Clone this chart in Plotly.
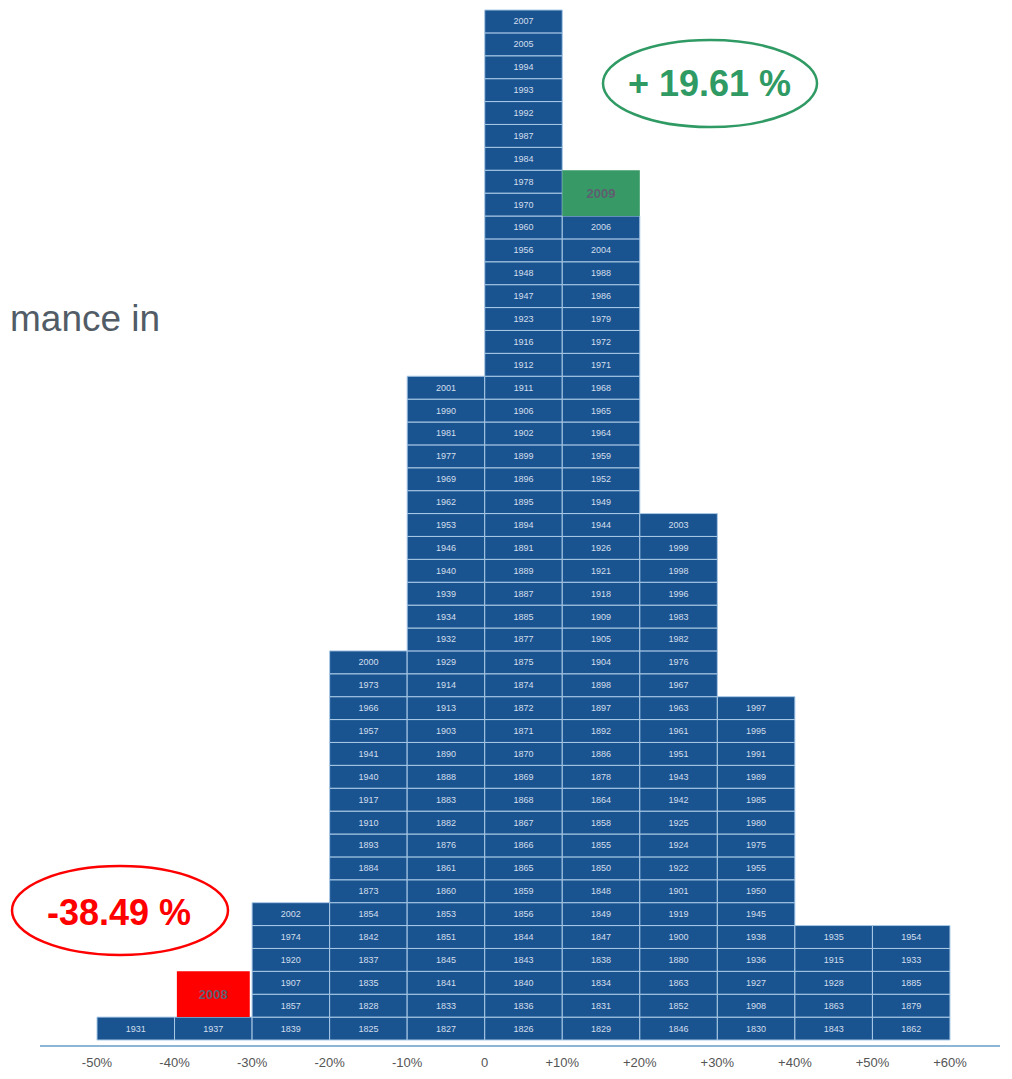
import plotly.graph_objects as go

# ---- data: years in each 10%-return bin, listed top -> bottom as read ----
bin_edges = [-50, -40, -30, -20, -10, 0, 10, 20, 30, 40, 50, 60]
tick_labels = ["-50%", "-40%", "-30%", "-20%", "-10%", "0", "+10%", "+20%",
               "+30%", "+40%", "+50%", "+60%"]

bin_m50 = ["1931"]
bin_m40 = ["1937"]
bin_m30 = ["2002", "1974", "1920", "1907", "1857", "1839"]
bin_m20 = ["2000", "1973", "1966", "1957", "1941", "1940", "1917", "1910", "1893",
           "1884", "1873", "1854", "1842", "1837", "1835", "1828", "1825"]
bin_m10 = ["2001", "1990", "1981", "1977", "1969", "1962", "1953", "1946", "1940",
           "1939", "1934", "1932", "1929", "1914", "1913", "1903", "1890", "1888",
           "1883", "1882", "1876", "1861", "1860", "1853", "1851", "1845", "1841",
           "1833", "1827"]
bin_p00 = ["2007", "2005", "1994", "1993", "1992", "1987", "1984", "1978", "1970",
           "1960", "1956", "1948", "1947", "1923", "1916", "1912", "1911", "1906",
           "1902", "1899", "1896", "1895", "1894", "1891", "1889", "1887", "1885",
           "1877", "1875", "1874", "1872", "1871", "1870", "1869", "1868", "1867",
           "1866", "1865", "1859", "1856", "1844", "1843", "1840", "1836", "1826"]
bin_p10 = ["2006", "2004", "1988", "1986", "1979", "1972", "1971", "1968", "1965",
           "1964", "1959", "1952", "1949", "1944", "1926", "1921", "1918", "1909",
           "1905", "1904", "1898", "1897", "1892", "1886", "1878", "1864", "1858",
           "1855", "1850", "1848", "1849", "1847", "1838", "1834", "1831", "1829"]
bin_p20 = ["2003", "1999", "1998", "1996", "1983", "1982", "1976", "1967", "1963",
           "1961", "1951", "1943", "1942", "1925", "1924", "1922", "1901", "1919",
           "1900", "1880", "1863", "1852", "1846"]
bin_p30 = ["1997", "1995", "1991", "1989", "1985", "1980", "1975", "1955", "1950",
           "1945", "1938", "1936", "1927", "1908", "1830"]
bin_p40 = ["1935", "1915", "1928", "1863", "1843"]
bin_p50 = ["1954", "1933", "1885", "1879", "1862"]

bins = [bin_m50, bin_m40, bin_m30, bin_m20, bin_m10, bin_p00,
        bin_p10, bin_p20, bin_p30, bin_p40, bin_p50]

# highlighted years
highlight_years = ["2008", "2009"]
highlight_bins = [-40, 10]
highlight_colors = ["#ff0000", "#379a66"]
highlight_returns = ["-38.49 %", "+ 19.61 %"]

# ---- build stacked cells ----
xs, bases, texts = [], [], []
for i, lst in enumerate(bins):
    center = (bin_edges[i] + bin_edges[i + 1]) / 2
    for r, yr in enumerate(reversed(lst)):
        xs.append(center)
        bases.append(r)
        texts.append(yr)

fig = go.Figure()
fig.add_trace(go.Bar(
    x=xs, y=[1] * len(xs), base=bases, width=10,
    marker=dict(color="#1a5490", line=dict(color="#a9c9e6", width=1)),
    text=texts, textposition="inside", insidetextanchor="middle", textangle=0,
    textfont=dict(size=9, color="#d2dfee", family="Liberation Sans"),
    hoverinfo="skip", showlegend=False,
))

for yr, lo, col in zip(highlight_years, highlight_bins, highlight_colors):
    idx = bin_edges.index(lo)
    fig.add_trace(go.Bar(
        x=[lo + 5], y=[2], base=[len(bins[idx])], width=[9.4 if lo < 0 else 10],
        marker=dict(color=col, line=dict(width=0)),
        text=["<b>%s</b>" % yr], textposition="inside", insidetextanchor="middle",
        textangle=0,
        textfont=dict(size=13, color="#5f5f70", family="Liberation Sans"),
        hoverinfo="skip", showlegend=False,
    ))

OFF = 8  # page body margin
W, H = 1012, 1079
L, R, T, B = 32, 20, 0, 42

fig.update_layout(
    width=W, height=H,
    margin=dict(l=L, r=R, t=T, b=B),
    barmode="overlay",
    plot_bgcolor="white", paper_bgcolor="white",
    xaxis=dict(range=[-57.35, 66.45], tickvals=bin_edges, ticktext=tick_labels,
               showgrid=False, zeroline=False, showline=True,
               linecolor="#8db6d6", linewidth=2, ticks="",
               ticklabelstandoff=4,
               tickfont=dict(size=13, color="#555555", family="Liberation Sans")),
    yaxis=dict(range=[-0.218, 45.087], visible=False),
    font=dict(family="Liberation Sans"),
)

def px2paper(px, py):
    fx, fy = px - OFF, py - OFF
    return (fx - L) / (W - L - R), (H - B - fy) / (H - T - B)

ell = [((12, 866, 228, 955), "#ff0000", (119, 912)),
       ((603, 40, 817, 127), "#2f9a63", (709, 83))]
for (box, col, c), txt in zip(ell, highlight_returns):
    x0, y1 = px2paper(box[0], box[1])
    x1, y0 = px2paper(box[2], box[3])
    fig.add_shape(type="circle", xref="paper", yref="paper",
                  x0=x0, x1=x1, y0=y0, y1=y1,
                  line=dict(color=col, width=2.5), fillcolor="rgba(0,0,0,0)")
    cx, cy = px2paper(*c)
    fig.add_annotation(x=cx, y=cy, xref="paper", yref="paper", text="<b>%s</b>" % txt,
                       showarrow=False, xanchor="center", yanchor="middle",
                       font=dict(size=36, color=col, family="Liberation Sans"))

tx, ty = px2paper(9, 318)
fig.add_annotation(x=tx, y=ty, xref="paper", yref="paper", text="mance in",
                   showarrow=False, xanchor="left", yanchor="middle", borderpad=0,
                   font=dict(size=37, color="#515c67", family="Liberation Sans"))

fig.write_html("out.html")
